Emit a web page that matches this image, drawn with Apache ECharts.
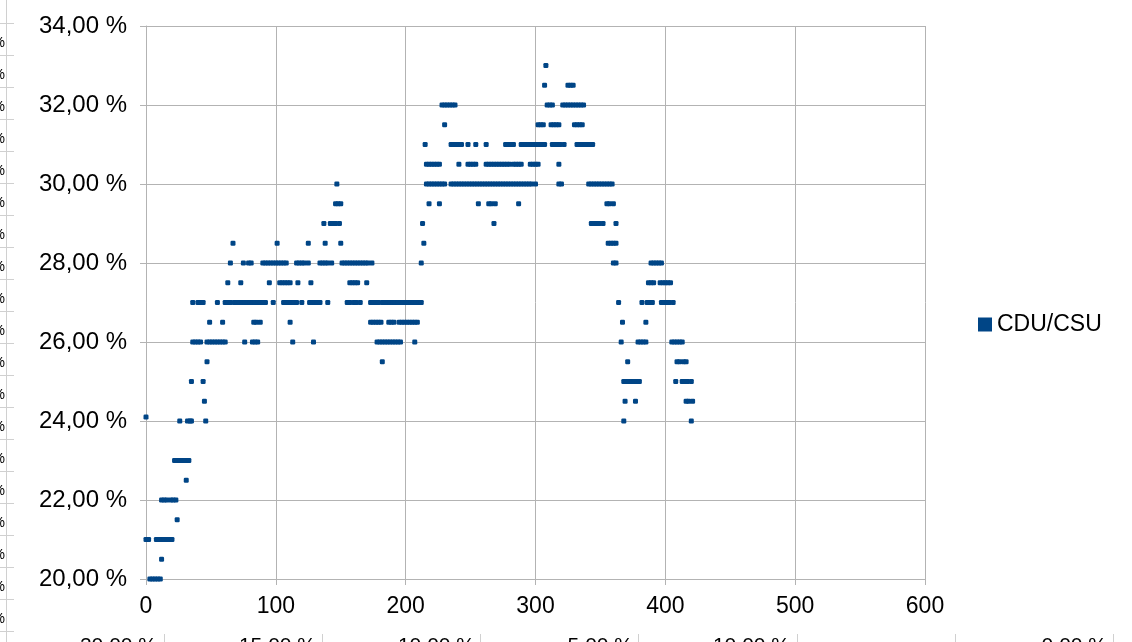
<!DOCTYPE html>
<html>
<head>
<meta charset="utf-8">
<script src="https://cdn.jsdelivr.net/npm/echarts@6/dist/echarts.min.js"></script>
<style>
  html, body { margin: 0; padding: 0; background: #fff; }
  #chart { width: 1132px; height: 642px; }
</style>
</head>
<body>
<div id="chart"></div>
<script>
// x positions of the points, grouped by their y level (in %)
const y20_0 = [3, 5, 7, 9, 11]
const y20_5 = [12]
const y21_0 = [0, 2, 8, 10, 12, 14, 16, 18, 20]
const y21_5 = [24]
const y22_0 = [12, 14, 16, 19, 21, 23]
const y22_5 = [31]
const y23_0 = [22, 24, 26, 28, 30, 32, 33]
const y24_0 = [26, 32, 34, 35, 46, 368, 420]
const y24_1 = [0]
const y24_5 = [45, 369, 377, 416, 418, 421]
const y25_0 = [35, 44, 368, 370, 372, 374, 376, 378, 380, 408, 413, 415, 417, 420]
const y25_5 = [47, 182, 371, 409, 411, 414, 416]
const y26_0 = [36, 38, 40, 42, 47, 49, 51, 53, 55, 57, 59, 61, 76, 82, 84, 86, 113, 129,
  178, 180, 182, 184, 186, 188, 190, 192, 194, 196, 207, 366, 379, 381, 383, 385,
  405, 407, 409, 411, 413]
const y26_5 = [49, 59, 83, 85, 88, 111, 173, 175, 177, 179, 181, 187, 189, 191, 195, 197,
  199, 201, 203, 205, 207, 209, 367, 385]
const y27_0 = [36, 40, 42, 44, 55, 61, 63, 65, 68, 70, 72, 74, 76, 78, 80, 82, 84, 86, 88,
  90, 92, 98, 106, 108, 110, 112, 114, 116, 120, 126, 128, 130, 132, 134, 140, 155, 157,
  160, 162, 165, 173, 175, 177, 179, 182, 184, 186, 188, 190, 192, 194, 196, 198, 200,
  202, 204, 206, 208, 210, 212, 364, 382, 386, 388, 390, 397, 399, 401, 403, 406]
const y27_5 = [63, 73, 95, 103, 105, 107, 109, 111, 117, 127, 157, 159, 161, 163, 170,
  387, 389, 391, 396, 398, 400, 402, 404]
const y28_0 = [65, 75, 79, 81, 90, 92, 94, 96, 98, 100, 102, 104, 106, 108, 116, 118, 120,
  122, 125, 134, 136, 138, 140, 143, 151, 153, 155, 157, 159, 161, 163, 165, 167, 169,
  171, 174, 212, 360, 362, 389, 391, 393, 395, 397]
const y28_5 = [67, 101, 125, 138, 150, 214, 356, 358, 360, 362]
const y29_0 = [137, 142, 144, 146, 149, 213, 268, 343, 345, 347, 349, 352, 362]
const y29_5 = [146, 148, 150, 218, 226, 256, 264, 266, 269, 287, 355, 357, 360]
const y30_0 = [147, 216, 218, 220, 222, 224, 226, 228, 230, 235, 237, 239, 241, 243, 245,
  247, 249, 251, 253, 255, 257, 259, 261, 263, 265, 267, 269, 271, 273, 275, 277, 279,
  281, 283, 285, 287, 289, 291, 293, 295, 297, 300, 318, 320, 341, 343, 345, 347, 349,
  351, 353, 355, 357, 359]
const y30_5 = [216, 218, 220, 222, 224, 226, 241, 248, 250, 252, 254, 262, 264, 266, 268,
  270, 272, 274, 276, 278, 280, 283, 285, 287, 289, 296, 298, 300, 302, 318]
const y31_0 = [215, 235, 237, 239, 241, 243, 248, 254, 262, 277, 279, 281, 283, 289, 291,
  293, 295, 297, 299, 301, 303, 305, 307, 313, 315, 317, 319, 322, 332, 334, 336, 338,
  340, 342, 344]
const y31_5 = [230, 302, 304, 306, 312, 314, 316, 318, 330, 332, 334, 336]
const y32_0 = [228, 230, 232, 234, 236, 238, 309, 311, 313, 321, 323, 325, 327, 329, 331,
  333, 335, 337]
const y32_5 = [307, 325, 327, 329]
const y33_0 = [308]

const seriesName = 'CDU/CSU'

const rows = [
  [20.0, y20_0], [20.5, y20_5], [21.0, y21_0], [21.5, y21_5], [22.0, y22_0], [22.5, y22_5],
  [23.0, y23_0], [24.0, y24_0], [24.1, y24_1], [24.5, y24_5], [25.0, y25_0], [25.5, y25_5],
  [26.0, y26_0], [26.5, y26_5], [27.0, y27_0], [27.5, y27_5], [28.0, y28_0], [28.5, y28_5],
  [29.0, y29_0], [29.5, y29_5], [30.0, y30_0], [30.5, y30_5], [31.0, y31_0], [31.5, y31_5],
  [32.0, y32_0], [32.5, y32_5], [33.0, y33_0]
]
const points = []
rows.forEach(([y, xs]) => xs.forEach(x => points.push([x, y])))

// remnants of the spreadsheet around the chart
const sheet = []
sheet.push({ type: 'line', shape: { x1: 6.5, y1: 0, x2: 6.5, y2: 642 }, style: { stroke: '#d0d0d0', lineWidth: 1 } })
for (let i = 0; i < 20; i++) {
  const y = 23 + i * 32
  sheet.push({ type: 'line', shape: { x1: 0, y1: y + 0.5, x2: 14, y2: y + 0.5 }, style: { stroke: '#d0d0d0', lineWidth: 1 } })
  if (i < 19) {
    sheet.push({ type: 'text', x: 5, y: y + 20, style: { text: '%', font: '14px "Liberation Sans"', fill: '#000', align: 'right', verticalAlign: 'middle' } })
  }
}
const bottomCells = [[164, 157, '20,00 %'], [322, 316, '15,00 %'], [480, 475, '10,00 %'],
  [638, 633, '5,00 %'], [797, 790, '10,00 %'], [955, null, ''], [1113, 1107, '0,00 %']]
bottomCells.forEach(([bx, tx, t]) => {
  sheet.push({ type: 'line', shape: { x1: bx + 0.5, y1: 634, x2: bx + 0.5, y2: 642 }, style: { stroke: '#d0d0d0', lineWidth: 1 } })
  if (tx) {
    sheet.push({ type: 'text', x: tx, y: 636, style: { text: t, font: '21px "Liberation Sans"', fill: '#000', align: 'right', verticalAlign: 'top' } })
  }
})

const chart = echarts.init(document.getElementById('chart'), null, { renderer: 'canvas' })
const gray = '#b3b3b3'
chart.setOption({
  animation: false,
  backgroundColor: '#fff',
  textStyle: { fontFamily: 'Liberation Sans' },
  grid: { left: 146, right: 207, top: 26, bottom: 63 },
  legend: {
    data: [seriesName],
    orient: 'vertical',
    left: 973,
    top: 308,
    itemWidth: 14,
    itemHeight: 14,
    icon: 'rect',
    textStyle: { fontSize: 23, color: '#000', fontFamily: 'Liberation Sans' }
  },
  xAxis: {
    type: 'value',
    min: 0,
    max: 600,
    interval: 100,
    axisLine: { show: true, lineStyle: { color: gray } },
    axisTick: { show: true, length: 6, lineStyle: { color: gray } },
    splitLine: { show: true, lineStyle: { color: gray } },
    axisLabel: { fontSize: 23, color: '#000', margin: 16, fontFamily: 'Liberation Sans' }
  },
  yAxis: {
    type: 'value',
    min: 20,
    max: 34,
    interval: 2,
    axisLine: { show: true, lineStyle: { color: gray } },
    axisTick: { show: true, length: 6, lineStyle: { color: gray } },
    splitLine: { show: true, lineStyle: { color: gray } },
    axisLabel: {
      fontSize: 24,
      color: '#000',
      margin: 19,
      fontFamily: 'Liberation Sans',
      formatter: v => v.toFixed(2).replace('.', ',') + ' %'
    }
  },
  series: [{
    name: seriesName,
    type: 'scatter',
    symbol: 'roundRect',
    symbolSize: 5,
    itemStyle: { color: '#004586', opacity: 1 },
    data: points
  }],
  graphic: sheet
})
</script>
</body>
</html>
